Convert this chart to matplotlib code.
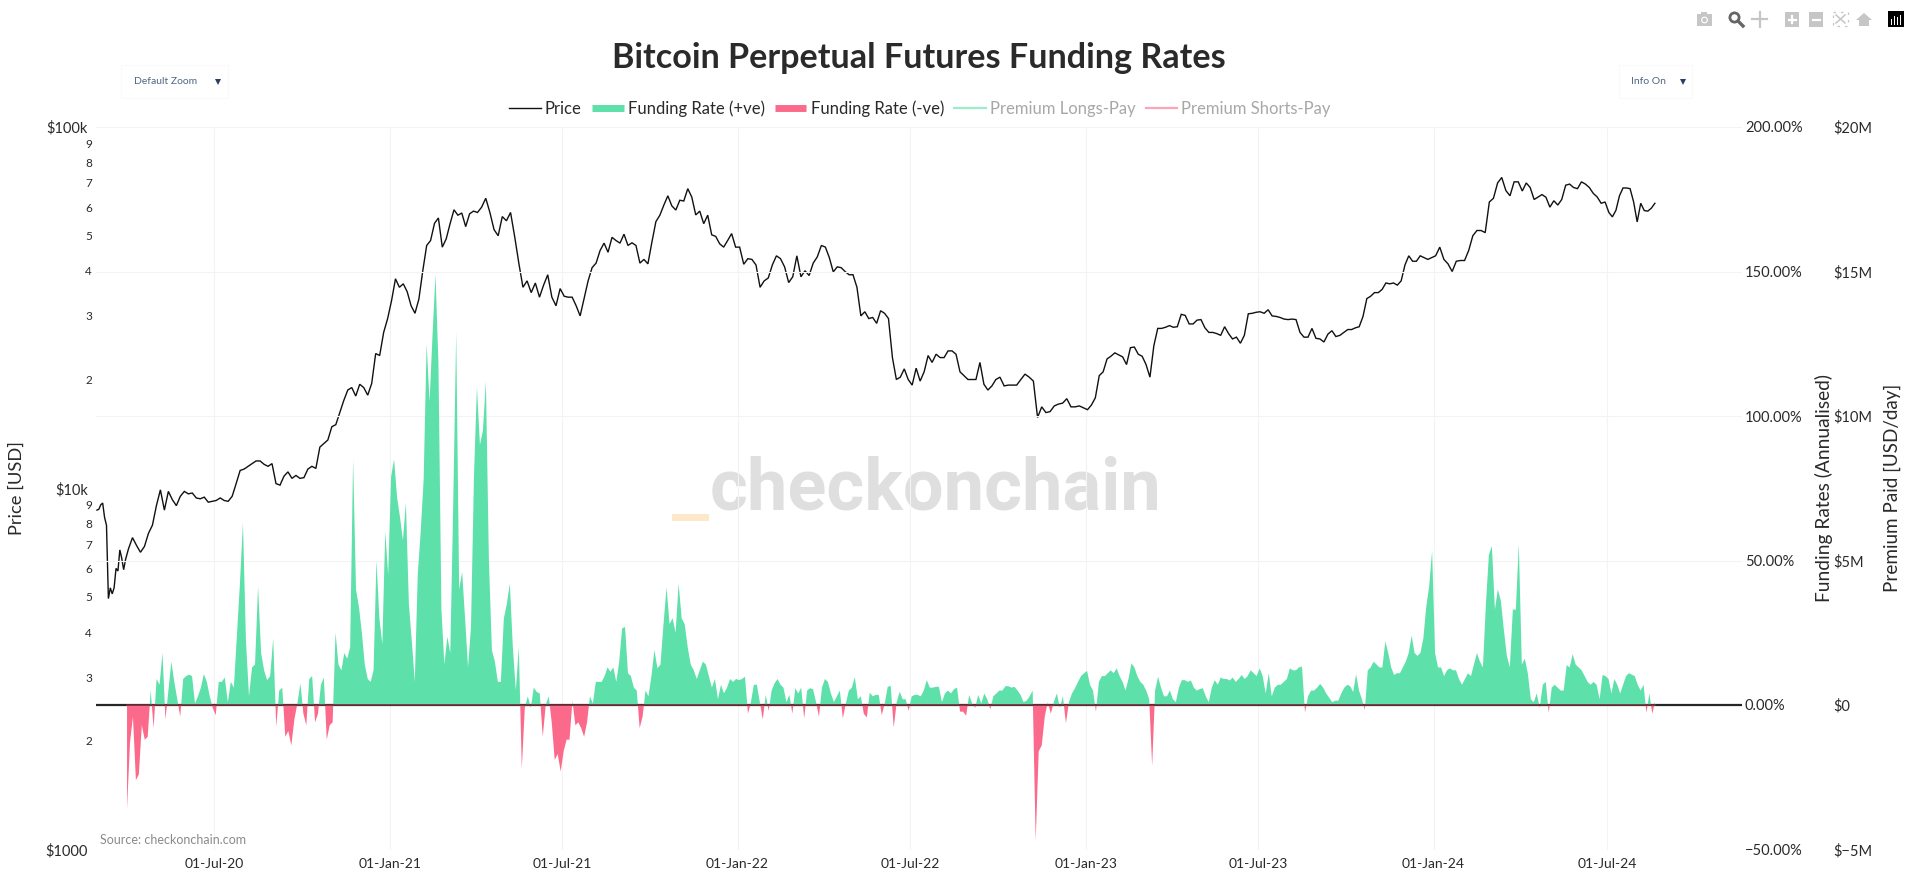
import numpy as np
import matplotlib
matplotlib.use("Agg")
import matplotlib.pyplot as plt
import matplotlib.dates as mdates
from matplotlib.lines import Line2D
from matplotlib.patches import Rectangle, Circle, Polygon
from matplotlib.transforms import ScaledTranslation

# ---------------------------------------------------------------------
# DATA, one list per quarter
# ---------------------------------------------------------------------
quarter_edges = ["2020-03-30", "2020-07-01", "2020-10-01", "2021-01-01", "2021-04-01", "2021-07-01",
                 "2021-10-01", "2022-01-01", "2022-04-01", "2022-07-01", "2022-10-01", "2023-01-01",
                 "2023-04-01", "2023-07-01", "2023-10-01", "2024-01-01", "2024-04-01", "2024-07-01",
                 "2024-08-22"]

funding_q2_20 = [-36, -13, -4, -26, -24, -7, -12, -11, 5, -8, 9, 7, 18, -5, 5, 15, 8, 2, -4, 9, 10, 10.5, 10, 0.5, 3, 6, 10.7, 8, 3, -1]
funding_q3_20 = [-3.5, 8, 8, 9.5, 1, 8, 6, 24, 42, 63, 22, 3, 13, 14, 41, 18, 12, 8.6, 10, 23, -7.5, 5, 6, -11, -9, -14, -5, 0.5, 7.5]
funding_q4_20 = [-3, -7, 9, 10, -6, -3, 7, 9.5, -12, -7, -6, 25, 14, 12, 18, 16, 20, 85, 40, 34, 25, 14, 9, 8, 12, 50, 30, 21, 60, 45]
funding_q1_21 = [79, 85, 72, 65, 57, 70, 35, 22, 8, 45, 60, 78, 125, 105, 128, 149, 118, 33, 14, 23.6, 18, 70, 129, 40, 46, 30, 13, 27, 79]
funding_q2_21 = [110, 90, 95, 112, 50, 19, 15, 8, 8, 30, 35, 42, 20, 5, 20, -22, -1, 3, -1, 6, 4.5, 4, -11, 0, 3, -6, -19, -17, -23]
funding_q3_21 = [-16, -12, -12, 1.5, -7, -6, -8, -11, -6, 3, 0.5, 8, 8, 8, 10, 13, 11.5, 13, 8, 15, 26.5, 27, 11, 10, 6, 5, -8, -4, 5, 3]
funding_q4_21 = [10, 19, 12.7, 14, 28, 40.7, 28, 30, 25, 42, 30, 28, 20, 14, 12, 9, 12, 15, 14, 10, 6, 9, 2, 7, 4, 6, 9, 8, 9]
funding_q1_22 = [8.6, 9, 9.8, -3, 1, 7, 7, 1, -5, 3.5, -2, 5, 7.5, 9, 7, 6, 1, 3.5, -3, 5.8, 4, 6, -4.6, 5, 5.8, 5.5, 1, -4, 6]
funding_q2_22 = [9, 8, 4, 1, 3, 5, -4.6, 0.5, 5, 6, 9.6, 2, 3, -3, -4.3, 4.3, 3, 3.5, 3.5, -3.5, 0.5, 6.3, 6.6, -7.8, 1, 4.6, 2, 2, -2]
funding_q3_22 = [3, 3.5, 3.5, 3, 5, 8.6, 6, 6, 6.3, 6.3, 1, 4, 5, 4, 5.5, 6, -2.3, -2.3, -3.7, 3.5, 0.5, -1, 3.5, 0.5, 4, 2, -1.5, 3, 4]
funding_q4_22 = [5, 5, 6.5, 6.5, 6, 6.3, 5, 3.5, 1, 1.5, 3, 5, -47, -16, -14, -4, 1, -3, 1, 4, -1, 3, -6.3, 1, 4, 5.8, 8, 10, 11]
funding_q1_23 = [11.8, 7, 5, -2.3, 8, 10, 10, 11, 12, 11, 12.7, 10, 8, 5, 9, 14.4, 13, 10, 8, 7, 5, 2, -21, 5, 9.8, 6, 3, 3, 5]
funding_q2_23 = [2, 1, 6, 8.6, 8.6, 8, 8.5, 6, 5, 5.5, 5.8, 3, 1, 6, 8.6, 7, 9.5, 9, 9, 8.5, 9.5, 8, 9, 10.4, 9, 10, 12, 11, 10]
funding_q3_23 = [12.7, 10, 4, 11, 3, 6, 7, 7, 8, 9, 12.7, 12, 12, 13, 13.3, -2.6, 3, 5, 5, 6, 7.3, 6, 4, 2.5, 1, 1.5, 1.5, 4, 6]
funding_q4_23 = [7, 6.5, 4.5, 10.6, 5, 2, -1.7, 12, 13, 15, 14, 13, 13, 22, 18, 13, 10.4, 11, 11, 13, 15, 18, 24, 18, 17, 18, 23, 34, 41, 53.4]
funding_q1_24 = [18, 13, 13, 10, 12, 12.7, 12, 12, 9, 7, 9, 11, 10, 14, 18, 15, 13, 35, 52, 55, 33, 40, 36, 26, 17, 13, 33, 33, 55.6]
funding_q2_24 = [14, 16, 11, 2, 1, 4, -1, 7, 8, -2.7, 6, 7, 6, 5, 5, 13.8, 13, 17.6, 14, 13, 12, 10, 8, 7, 8, 7, 2, 10.4, 10]
funding_q3_24 = [9, 4, 9, 7, 4, 7, 10, 11, 10.5, 10, 7, 5, 7, -2.7, 4, -3, 1.2]

price_start = [8700, 8750, 9000, 9100, 8300, 7900, 4950, 5300, 5100, 5300, 6000, 5900, 6750, 6400, 5950, 6350]
price_q2_20 = [6800, 7300, 6950, 6650, 6900, 7500, 7900, 8950, 9900, 8700, 9800, 9300, 8950, 9500, 9800, 9650, 9700, 9400, 9350, 9450, 9150, 9200]
price_q3_20 = [9250, 9400, 9250, 9200, 9500, 10300, 11200, 11300, 11500, 11700, 11900, 11900, 11650, 11500, 11700, 10300, 10200, 10800, 11100, 10650, 10850, 10650]
price_q4_20 = [10700, 11300, 11500, 11350, 13000, 13300, 13600, 14800, 15000, 16200, 17500, 18700, 19000, 18000, 19400, 19000, 18100, 19500, 23600, 23300, 27000, 29500]
price_q1_21 = [33100, 38000, 36000, 36800, 35000, 32000, 30500, 33400, 40000, 47000, 48500, 54100, 56000, 46500, 49000, 54000, 59000, 57000, 57800, 53000, 57500, 58500]
price_q2_21 = [58000, 60000, 63500, 58000, 52000, 50000, 56500, 55000, 58000, 49700, 42000, 36000, 37500, 34800, 37000, 33800, 36500, 39000, 33800, 32000, 35700]
price_q3_21 = [34000, 33800, 33800, 32000, 30000, 33500, 37500, 40800, 42000, 45500, 47700, 45000, 49500, 48500, 47700, 50500, 47000, 47800, 47000, 42000, 43000, 41800]
price_q4_21 = [48000, 54700, 57000, 60800, 64500, 60500, 58900, 62700, 62400, 67500, 64000, 57100, 58500, 54000, 57000, 50300, 49800, 47500, 46500, 48500, 50700, 46500]
price_q1_22 = [46500, 41700, 43200, 43000, 41500, 36000, 37500, 38200, 41500, 44000, 43200, 41000, 37100, 38500, 44000, 38500, 40000, 38800, 42000, 43700, 47000]
price_q2_22 = [46500, 43500, 39700, 41000, 40800, 39800, 39000, 39000, 36000, 30000, 30800, 29500, 29700, 28600, 31000, 30500, 29500, 23000, 20000, 20300, 21400, 20000]
price_q3_22 = [19300, 21500, 19800, 21000, 23300, 22300, 23500, 23000, 23000, 24000, 24000, 23500, 21000, 20500, 20000, 20000, 20000, 22300, 19400, 18700, 19200, 20000]
price_q4_22 = [20300, 19200, 19300, 19300, 19300, 20000, 20700, 20300, 19800, 15700, 16800, 16200, 16300, 16900, 17100, 17200, 17700, 16800, 16800, 16900, 16700]
price_q1_23 = [16500, 17000, 17800, 20500, 21000, 22800, 23200, 23700, 23400, 23100, 22000, 24500, 24600, 23500, 23200, 22000, 20300, 24800, 27700, 27700, 27900, 28200]
price_q2_23 = [27900, 28000, 30300, 30100, 28500, 28500, 29200, 29300, 27800, 27000, 27000, 26800, 26500, 28000, 26800, 25900, 26200, 25200, 26500, 30400, 30500, 30700]
price_q3_23 = [30800, 30500, 31200, 30000, 29900, 29700, 29400, 29300, 29400, 29300, 27000, 26200, 26200, 27700, 26000, 25900, 25400, 26700, 27300, 26300, 26500, 27000]
price_q4_23 = [27500, 27500, 27800, 28000, 29900, 33500, 34000, 34800, 34800, 35500, 37000, 36800, 37000, 36500, 37500, 41500, 44000, 42500, 42500, 44000, 43500, 43000, 43500]
price_q1_24 = [44000, 46500, 43000, 41800, 39800, 42500, 42700, 42700, 45500, 50000, 51700, 51700, 51000, 62000, 63500, 70000, 72500, 66700, 64500, 70500, 70500]
price_q2_24 = [66500, 70000, 68000, 63000, 64000, 65000, 63900, 60000, 62500, 60800, 63000, 69000, 69500, 68000, 67500, 70500, 69500, 68000, 65500, 64000, 61500, 62000]
price_q3_24 = [58000, 56400, 58800, 64500, 67800, 67800, 67500, 62000, 54600, 61500, 58700, 58500, 59600, 61500]

funding_parts = [funding_q2_20, funding_q3_20, funding_q4_20, funding_q1_21, funding_q2_21, funding_q3_21,
                 funding_q4_21, funding_q1_22, funding_q2_22, funding_q3_22, funding_q4_22, funding_q1_23,
                 funding_q2_23, funding_q3_23, funding_q4_23, funding_q1_24, funding_q2_24, funding_q3_24]
price_parts = [price_q2_20, price_q3_20, price_q4_20, price_q1_21, price_q2_21, price_q3_21,
               price_q4_21, price_q1_22, price_q2_22, price_q3_22, price_q4_22, price_q1_23,
               price_q2_23, price_q3_23, price_q4_23, price_q1_24, price_q2_24, price_q3_24]

date_ticks = ["2020-07-01", "2021-01-01", "2021-07-01", "2022-01-01", "2022-07-01",
              "2023-01-01", "2023-07-01", "2024-01-01", "2024-07-01"]
price_major = [1000, 10000, 100000]
price_major_labels = ["$1000", "$10k", "$100k"]
price_minor = [2000, 3000, 4000, 5000, 6000, 7000, 8000, 9000,
               20000, 30000, 40000, 50000, 60000, 70000, 80000, 90000]
price_minor_labels = ["2", "3", "4", "5", "6", "7", "8", "9"] * 2
funding_ticks = [-50, 0, 50, 100, 150, 200]
funding_labels = ["\u221250.00%", "0.00%", "50.00%", "100.00%", "150.00%", "200.00%"]
premium_ticks = [-5, 0, 5, 10, 15, 20]
premium_labels = ["$\u22125M", "$0", "$5M", "$10M", "$15M", "$20M"]

# ---------------------------------------------------------------------
# CONFIG
# ---------------------------------------------------------------------
W, H = 1918, 883
FONT = "Lato"
TEXT = "#2a2a2a"
GREEN = "#5de0a9"
RED = "#fb6a8a"
GRID = "#f3f3f3"
plt.rcParams["font.family"] = [FONT, "DejaVu Sans"]


# ---------------------------------------------------------------------
# HELPERS
# ---------------------------------------------------------------------
def _num(day):
    return mdates.date2num(np.datetime64(day))


def _spread(parts, edges):
    """Dates for lists that each fill one span between two edges"""
    out = []
    for vals, a, b in zip(parts, edges[:-1], edges[1:]):
        t0, t1 = _num(a), _num(b)
        out.append(t0 + (np.arange(len(vals)) + 0.5) * (t1 - t0) / len(vals))
    return np.concatenate(out)


def _dropdown(deco, x0, x1, label, tx, ax_):
    deco.add_patch(Rectangle((x0, 65), x1 - x0, 33, fc="white", ec="#fafafa", lw=0.8))
    deco.text(tx, 82, label, fontsize=7.5, color="#506784", va="center", ha="left")
    deco.add_patch(Polygon([(ax_ - 3, 79), (ax_ + 3, 79), (ax_, 85)], fc="#2a3f5f", ec="none"))


def _modebar(deco):
    gray = "#c6c6c6"
    # camera
    deco.add_patch(Rectangle((1697, 14), 15, 12, fc=gray, ec="none"))
    deco.add_patch(Rectangle((1701, 12), 6, 3, fc=gray, ec="none"))
    deco.add_patch(Circle((1704.5, 20), 3.4, fc="white", ec="none"))
    deco.add_patch(Circle((1704.5, 20), 2.2, fc=gray, ec="none"))
    # zoom, active
    deco.add_patch(Circle((1734.5, 17.5), 4.6, fc="white", ec="#666666", lw=2))
    deco.plot([1738, 1743], [21, 26], color="#666666", lw=2.4)
    # pan
    deco.plot([1752, 1767], [19, 19], color=gray, lw=1.6)
    deco.plot([1760, 1760], [12, 27], color=gray, lw=1.6)
    # plus and minus
    for cx, sym in [(1792, "+"), (1816, "-")]:
        deco.add_patch(Rectangle((cx - 7, 12), 14, 15, fc=gray, ec="none"))
        deco.plot([cx - 3.5, cx + 3.5], [19.5, 19.5], color="white", lw=1.6)
        if sym == "+":
            deco.plot([cx, cx], [16, 23], color="white", lw=1.6)
    # autoscale
    deco.add_patch(Rectangle((1833, 12), 15, 14, fc="none", ec=gray, lw=0.9, ls=(0, (2, 4))))
    deco.plot([1836, 1845], [15, 23], color=gray, lw=1.1)
    deco.plot([1836, 1845], [23, 15], color=gray, lw=1.1)
    # home
    deco.add_patch(Polygon([(1856, 20), (1864, 13), (1872, 20)], fc=gray, ec="none"))
    deco.add_patch(Rectangle((1859, 20), 10, 6, fc=gray, ec="none"))
    # logo
    deco.add_patch(Rectangle((1888, 11), 16, 16, fc="black", ec="none"))
    for i, h in enumerate([6, 9, 8, 10]):
        deco.add_patch(Rectangle((1890.5 + i * 3, 24.5 - h), 1.6, h, fc="white", ec="none"))


# ---------------------------------------------------------------------
# MAIN
# ---------------------------------------------------------------------
if __name__ == "__main__":
    funding = np.concatenate([np.array(p, dtype=float) for p in funding_parts])
    funding_x = _spread(funding_parts, quarter_edges)

    # price starts a month earlier than funding, in its own short list
    price = np.concatenate([np.array(p, dtype=float) for p in [price_start] + price_parts])
    price_x = _spread([price_start] + price_parts, ["2020-02-28", "2020-03-31"] + quarter_edges[1:])

    fig = plt.figure(figsize=(W / 100, H / 100), dpi=100, facecolor="white")
    rect = [96 / W, 1 - 849.5 / H, 1645.5 / W, 722.5 / H]

    # page furniture drawn in pixels, behind the chart
    deco = fig.add_axes([0, 0, 1, 1], zorder=0)
    deco.set_xlim(0, W)
    deco.set_ylim(H, 0)
    deco.axis("off")
    deco.text(710, 510, "checkonchain", fontsize=52, fontweight="bold", family="Roboto",
              color="#dfdfdf", ha="left", va="baseline")
    deco.add_patch(Rectangle((672, 514), 36.5, 6.5, fc="#fde9c9", ec="none"))
    _dropdown(deco, 121, 228, "Default Zoom", 134, 218)
    _dropdown(deco, 1619, 1692, "Info On", 1631, 1683)
    _modebar(deco)

    ax = fig.add_axes(rect, zorder=1)
    ax.patch.set_visible(False)
    ax.plot(price_x, price, color="#111111", lw=1.0, solid_joinstyle="miter")
    ax.set_yscale("log")
    ax.set_ylim(1000, 100000)
    ax.set_xlim(_num("2020-02-28"), _num("2024-11-19"))
    ax.set_yticks(price_major)
    ax.set_yticklabels(price_major_labels, fontsize=10.5, color=TEXT)
    lift = ScaledTranslation(0, 3 / 100, fig.dpi_scale_trans)
    for lab in ax.get_yticklabels():
        lab.set_transform(lab.get_transform() + lift)
    ax.set_yticks(price_minor, minor=True)
    ax.set_yticklabels(price_minor_labels, minor=True, fontsize=8.5, color=TEXT)
    ax.tick_params(axis="y", which="major", length=0, pad=6)
    ax.tick_params(axis="y", which="minor", length=0, pad=3)
    ax.set_xticks([_num(d) for d in date_ticks])
    ax.xaxis.set_major_formatter(mdates.DateFormatter("%d-%b-%y"))
    ax.tick_params(axis="x", length=0, pad=6, labelsize=10, labelcolor=TEXT)
    ax.grid(axis="x", color=GRID, lw=0.8)
    ax.set_axisbelow(True)
    ax.set_ylabel("Price [USD]", fontsize=13.2, color=TEXT)
    ax.yaxis.set_label_coords(-71 / 1645.5, 0.5)
    ax.text(100, 840, "Source: checkonchain.com", fontsize=9, color="#8a8a8a", va="center",
            transform=deco.transData)

    ax2 = ax.twinx()
    ax2.set_ylim(-50, 200)
    ax2.set_yticks(funding_ticks)
    ax2.set_yticklabels(funding_labels, fontsize=10.5, color=TEXT)
    ax2.tick_params(axis="y", length=0, pad=2.5)
    ax2.grid(axis="y", color=GRID, lw=0.8)
    ax2.set_axisbelow(True)
    ax2.axhline(0, color="#262626", lw=1.6, zorder=2)
    ax2.fill_between(funding_x, 0, funding, where=funding >= 0, interpolate=True, color=GREEN, lw=0, zorder=3)
    ax2.fill_between(funding_x, 0, funding, where=funding <= 0, interpolate=True, color=RED, lw=0, zorder=3)
    ax2.plot(funding_x, np.zeros_like(funding_x), color="#6e2b35", lw=1.2, zorder=4)
    ax2.set_ylabel("Funding Rates (Annualised)", fontsize=13.8, color=TEXT)
    ax2.yaxis.set_label_coords((1815 - 96) / 1645.5, 0.5)

    ax3 = ax.twinx()
    ax3.set_ylim(-5, 20)
    ax3.set_yticks(premium_ticks)
    ax3.set_yticklabels(premium_labels, fontsize=10.5, color=TEXT)
    ax3.tick_params(axis="y", length=0, pad=66)
    ax3.set_ylabel("Premium Paid [USD/day]", fontsize=13.6, color=TEXT)
    ax3.yaxis.set_label_coords((1884 - 96) / 1645.5, 0.5)

    for a in (ax, ax2, ax3):
        for s in a.spines.values():
            s.set_visible(False)

    fig.suptitle("Bitcoin Perpetual Futures Funding Rates", x=751 * 1.223 / W, y=1 - 58 / H,
                 fontsize=24.6, fontweight="bold", color=TEXT, va="center", ha="center")

    handles = [Line2D([], [], color="#111111", lw=1.0),
               Line2D([], [], color=GREEN, lw=5, solid_capstyle="butt"),
               Line2D([], [], color=RED, lw=5, solid_capstyle="butt"),
               Line2D([], [], color=GREEN, lw=1.6, alpha=0.6),
               Line2D([], [], color=RED, lw=1.6, alpha=0.6)]
    labels = ["Price", "Funding Rate (+ve)", "Funding Rate (-ve)", "Premium Longs-Pay", "Premium Shorts-Pay"]
    leg = fig.legend(handles, labels, ncol=5, loc="center", bbox_to_anchor=(920 / W, 1 - 109 / H),
                     frameon=False, fontsize=12, handlelength=1.9, handletextpad=0.25, columnspacing=0.6)
    for i, t in enumerate(leg.get_texts()):
        t.set_color(TEXT if i < 3 else "#a8a8a8")

    fig.savefig("out.png", dpi=100, facecolor="white")
